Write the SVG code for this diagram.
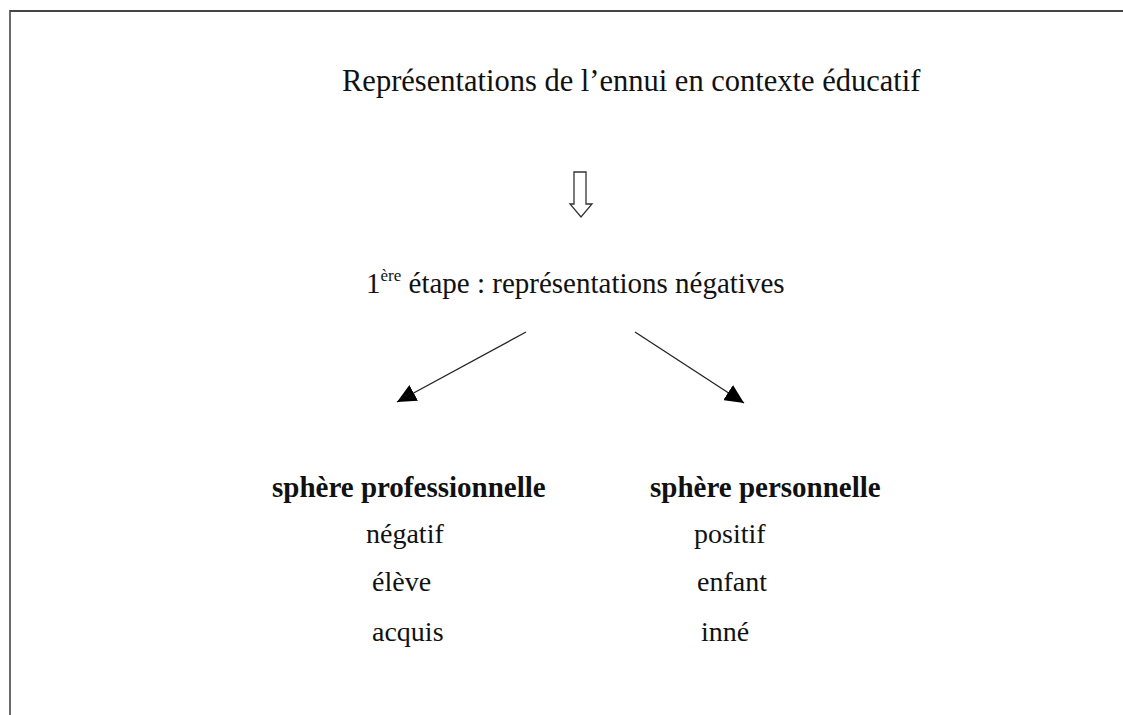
<svg xmlns="http://www.w3.org/2000/svg" width="1123" height="715" viewBox="0 0 1123 715">
<style>
  text { font-family: "Liberation Serif", "Times New Roman", serif; fill: #111; }
  .t { font-size: 28px; }
  .h { font-size: 30.5px; }
  .s { font-size: 29px; }
  .b { font-size: 29px; font-weight: bold; }
  .sup { font-size: 17px; }
  .conn { stroke: #222; stroke-width: 1.3; fill: none; }
</style>
<defs>
  <marker id="tri" viewBox="0 0 19 18" refX="19" refY="9" markerUnits="userSpaceOnUse" markerWidth="19" markerHeight="18" orient="auto">
    <path d="M0,0 L19,9 L0,18 Z" fill="#000"/>
  </marker>
</defs>
<rect width="1123" height="715" fill="#fff"/>
<g id="frame">
  <line x1="10" y1="11" x2="1123" y2="11" stroke="#444" stroke-width="2"/>
  <line x1="10" y1="10" x2="10" y2="715" stroke="#444" stroke-width="1.6"/>
</g>
<g id="title">
  <text class="h" x="342" y="91">Représentations de l’ennui en contexte éducatif</text>
</g>
<g id="step1">
  <text class="s" x="366" y="293">1<tspan class="sup" dy="-12">ère</tspan><tspan dy="12"> étape : représentations négatives</tspan></text>
</g>
<g id="pro">
  <text class="b" x="272" y="497">sphère professionnelle</text>
  <text class="t" x="366" y="543">négatif</text>
  <text class="t" x="372" y="591">élève</text>
  <text class="t" x="372" y="641">acquis</text>
</g>
<g id="perso">
  <text class="b" x="650" y="497">sphère personnelle</text>
  <text class="t" x="694" y="543">positif</text>
  <text class="t" x="697" y="591">enfant</text>
  <text class="t" x="701" y="641">inné</text>
</g>
<g id="connectors">
  <path d="M574,172 L586,172 L586,204 L592,204 L581,217 L570,204 L574,204 Z" fill="#fff" stroke="#333" stroke-width="1.3" stroke-linejoin="miter"/>
  <line class="conn" x1="526" y1="332" x2="397" y2="402" marker-end="url(#tri)"/>
  <line class="conn" x1="635" y1="332" x2="744" y2="403" marker-end="url(#tri)"/>
</g>
</svg>
